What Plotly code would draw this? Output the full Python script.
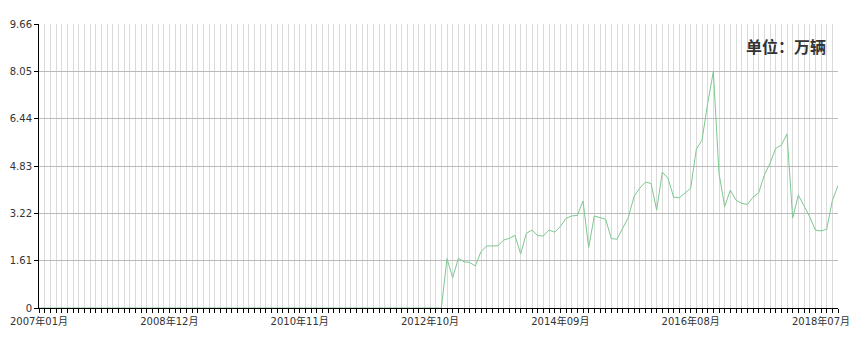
import plotly.graph_objects as go
import pandas as pd

months = [d.strftime("%Y年%m月") for d in pd.date_range("2007-01-01", "2018-10-01", freq="MS")]

values = [
    0, 0, 0, 0, 0, 0, 0, 0, 0, 0, 0, 0,
    0, 0, 0, 0, 0, 0, 0, 0, 0, 0, 0, 0,
    0, 0, 0, 0, 0, 0, 0, 0, 0, 0, 0, 0,
    0, 0, 0, 0, 0, 0, 0, 0, 0, 0, 0, 0,
    0, 0, 0, 0, 0, 0, 0, 0, 0, 0, 0, 0,
    0, 0, 0, 0, 0, 0, 0, 0, 0, 0, 0, 0,
    1.68, 1.03, 1.69, 1.57, 1.55, 1.43, 1.92, 2.11, 2.11, 2.12, 2.31, 2.37,
    2.47, 1.84, 2.54, 2.65, 2.46, 2.45, 2.65, 2.58, 2.77, 3.05, 3.13, 3.15,
    3.64, 2.06, 3.13, 3.08, 3.02, 2.36, 2.34, 2.71, 3.08, 3.79, 4.07, 4.28,
    4.24, 3.33, 4.62, 4.41, 3.77, 3.75, 3.90, 4.07, 5.40, 5.71, 6.96, 8.04,
    4.58, 3.45, 4.01, 3.67, 3.56, 3.52, 3.77, 3.92, 4.52, 4.92, 5.43, 5.54,
    5.92, 3.06, 3.84, 3.47, 3.11, 2.65, 2.62, 2.68, 3.65, 4.16,
]

y_ticks = [0, 1.61, 3.22, 4.83, 6.44, 8.05, 9.66]
y_tick_text = ["0", "1.61", "3.22", "4.83", "6.44", "8.05", "9.66"]
label_every = 23
x_tick_text = [m if i % label_every == 0 else "" for i, m in enumerate(months)]
unit_text = "单位：万辆"

fig = go.Figure()
fig.add_trace(go.Scatter(
    x=months, y=values, mode="lines",
    line=dict(color="#7cc98f", width=1),
    hoverinfo="x+y", showlegend=False,
))

fig.update_layout(
    width=856, height=344,
    margin=dict(l=39, r=18, t=24, b=36),
    paper_bgcolor="white", plot_bgcolor="white",
    font=dict(family="DejaVu Sans, Noto Sans CJK SC", size=10, color="#333333"),
    xaxis=dict(
        type="category", automargin=False,
        range=[0, len(months) - 1],
        tickmode="array", tickvals=months, ticktext=x_tick_text,
        ticks="outside", ticklen=4, tickcolor="#000000", tickwidth=1,
        showline=True, linecolor="#000000", linewidth=1,
        showgrid=True, gridcolor="#dadada", gridwidth=1,
        tickangle=0, layer="below traces",
        tickfont=dict(size=10, color="#333333"),
    ),
    yaxis=dict(
        range=[0, 9.66], automargin=False,
        tickmode="array", tickvals=y_ticks, ticktext=y_tick_text,
        ticks="outside", ticklen=4, tickcolor="#000000", tickwidth=1,
        showline=True, linecolor="#000000", linewidth=1,
        showgrid=True, gridcolor="#bbbbbb", gridwidth=1,
        zeroline=False, layer="below traces",
        tickfont=dict(size=10, color="#333333"),
    ),
    annotations=[dict(
        text="<b>" + unit_text + "</b>", xref="paper", yref="paper",
        x=(828 - 39) / (856 - 39 - 18), y=(308 - 46) / 284,
        xanchor="right", yanchor="middle", showarrow=False,
        font=dict(family="Noto Sans CJK SC", size=16, color="#333333"),
    )],
)

fig.write_html("out.html")
